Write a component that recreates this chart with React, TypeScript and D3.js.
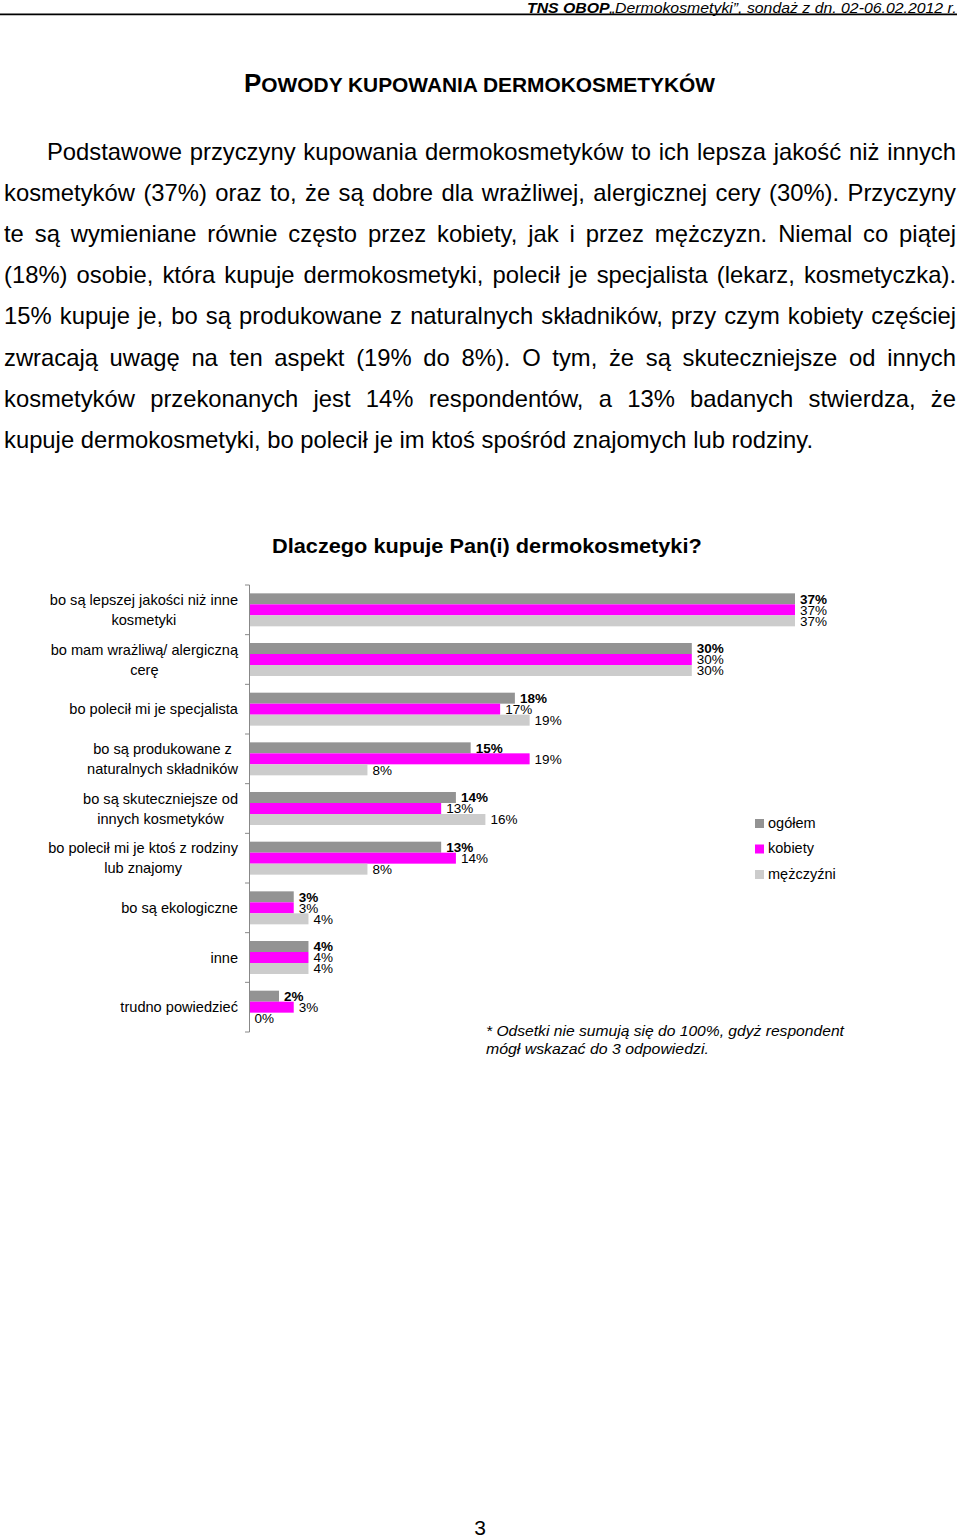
import React, { useEffect, useRef } from "react";
import * as d3 from "d3";

const FONT = "'Liberation Sans', Arial, Helvetica, sans-serif";

const categories: string[][] = [
  ["bo są lepszej jakości niż inne", "kosmetyki"],
  ["bo mam wrażliwą/ alergiczną", "cerę"],
  ["bo polecił mi je specjalista"],
  ["bo są produkowane z", "naturalnych składników"],
  ["bo są skuteczniejsze od", "innych kosmetyków"],
  ["bo polecił mi je ktoś z rodziny", "lub znajomy"],
  ["bo są ekologiczne"],
  ["inne"],
  ["trudno powiedzieć"],
];

const seriesNames = ["ogółem", "kobiety", "mężczyźni"];
const seriesColors = ["#939393", "#ff00ff", "#cccccc"];
const ogolem = [37, 30, 18, 15, 14, 13, 3, 4, 2];
const kobiety = [37, 30, 17, 19, 13, 14, 3, 4, 3];
const mezczyzni = [37, 30, 19, 8, 16, 8, 4, 4, 0];

const headerBold = "TNS OBOP";
const headerRest = "„Dermokosmetyki”, sondaż z dn. 02-06.02.2012 r.";
const headingFirst = "P";
const headingRest = "OWODY KUPOWANIA DERMOKOSMETYKÓW";
const chartTitle = "Dlaczego kupuje Pan(i) dermokosmetyki?";
const paragraph = [
  "Podstawowe przyczyny kupowania dermokosmetyków to ich lepsza jakość niż innych",
  "kosmetyków (37%) oraz to, że są dobre dla wrażliwej, alergicznej cery (30%). Przyczyny",
  "te są wymieniane równie często przez kobiety, jak i przez mężczyzn. Niemal co piątej",
  "(18%) osobie, która kupuje dermokosmetyki, polecił je specjalista (lekarz, kosmetyczka).",
  "15% kupuje je, bo są produkowane z naturalnych składników, przy czym kobiety częściej",
  "zwracają uwagę na ten aspekt (19% do 8%). O tym, że są skuteczniejsze od innych",
  "kosmetyków przekonanych jest 14% respondentów, a 13% badanych stwierdza, że",
  "kupuje dermokosmetyki, bo polecił je im ktoś spośród znajomych lub rodziny.",
];
const footnote = [
  "* Odsetki nie sumują się do 100%, gdyż respondent",
  "mógł wskazać do 3 odpowiedzi.",
];
const pageNumber = "3";

function fit(sel: any, x: number, y: number, w: number) {
  const node = sel.node() as SVGTextElement;
  const nat = node.getBBox().width || 1;
  sel.attr("x", 0).attr("y", 0).attr("transform", `translate(${x},${y}) scale(${w / nat},1)`);
}

export default function App() {
  const ref = useRef<SVGSVGElement>(null);
  useEffect(() => {
    const svg = d3.select(ref.current);
    svg.selectAll("*").remove();
    svg.append("rect").attr("width", 960).attr("height", 1538).attr("fill", "#fff");

    // header
    const hdr = svg.append("text").attr("font-family", FONT).attr("font-style", "italic").attr("font-size", 14).attr("fill", "#000");
    hdr.append("tspan").attr("font-weight", "bold").text(headerBold);
    hdr.append("tspan").text(headerRest);
    fit(hdr, 527, 12.5, 430);
    svg.append("line").attr("x1", 0).attr("x2", 957).attr("y1", 14.3).attr("y2", 14.3).attr("stroke", "#000").attr("stroke-width", 1.8);

    // heading
    const h = svg.append("text").attr("font-family", FONT).attr("font-weight", "bold").attr("fill", "#000");
    h.append("tspan").attr("font-size", 25.5).text(headingFirst);
    h.append("tspan").attr("font-size", 20.5).text(headingRest);
    fit(h, 244, 92, 472);

    // paragraph, justified
    const pFont = 23.8;
    const measure = (t: string, size: number, weight = "normal") => {
      const tmp = svg.append("text").attr("font-family", FONT).attr("font-size", size).attr("font-weight", weight).text(t);
      const w = (tmp.node() as SVGTextElement).getComputedTextLength();
      tmp.remove();
      return w;
    };
    const spaceW = measure("a a", pFont) - measure("aa", pFont);
    paragraph.forEach((line, i) => {
      const words = line.split(" ");
      const widths = words.map((w) => measure(w, pFont));
      const startX = i === 0 ? 47 : 4;
      const endX = 956;
      const total = d3.sum(widths);
      const last = i === paragraph.length - 1;
      const gap = last ? spaceW : (endX - startX - total) / (words.length - 1);
      let cx = startX;
      const yb = 160 + i * 41.1;
      words.forEach((w, k) => {
        svg.append("text").attr("font-family", FONT).attr("font-size", pFont).attr("fill", "#000").attr("x", cx).attr("y", yb).text(w);
        cx += widths[k] + gap;
      });
    });

    // chart title
    const title = svg.append("text").attr("font-family", FONT).attr("font-weight", "bold").attr("font-size", 21).attr("fill", "#000").text(chartTitle);
    fit(title, 272, 553, 430);

    // chart
    const n = categories.length;
    const values = [ogolem, kobiety, mezczyzni];
    const y0 = d3.scaleBand<number>().domain(d3.range(n)).range([585, 1032]).paddingInner(0.336).paddingOuter(0.168);
    const y1 = d3.scaleBand<number>().domain([0, 1, 2]).range([0, y0.bandwidth()]);
    const x = d3.scaleLinear().domain([0, 37]).range([249.5, 795]);
    const step = y0.step();

    const g = svg.append("g");
    for (let i = 0; i < n; i++) {
      for (let s = 0; s < 3; s++) {
        const v = values[s][i];
        const yy = (y0(i) as number) + (y1(s) as number);
        g.append("rect").attr("x", x(0)).attr("y", yy).attr("width", x(v) - x(0)).attr("height", y1.bandwidth()).attr("fill", seriesColors[s]);
      }
    }
    for (let i = 0; i < n; i++) {
      for (let s = 0; s < 3; s++) {
        const v = values[s][i];
        const yy = (y0(i) as number) + (y1(s) as number) + y1.bandwidth() / 2;
        g.append("text").attr("font-family", FONT).attr("font-size", 13.5).attr("font-weight", s === 0 ? "bold" : "normal")
          .attr("fill", "#000").attr("x", x(v) + 5).attr("y", yy).attr("dy", "0.36em").text(`${v}%`);
      }
    }
    // axis
    const axisTop = 585;
    g.append("line").attr("x1", 249.5).attr("x2", 249.5).attr("y1", axisTop).attr("y2", axisTop + step * n).attr("stroke", "#888").attr("stroke-width", 1);
    d3.range(n + 1).forEach((k) => {
      const yy = axisTop + step * k;
      g.append("line").attr("x1", 245).attr("x2", 249.5).attr("y1", yy).attr("y2", yy).attr("stroke", "#888").attr("stroke-width", 1);
    });

    // category labels
    categories.forEach((lines, i) => {
      const center = (y0(i) as number) + y0.bandwidth() / 2;
      const ws = lines.map((l) => measure(l, 14.6));
      const maxW = d3.max(ws) as number;
      lines.forEach((l, k) => {
        svg.append("text").attr("font-family", FONT).attr("font-size", 14.6).attr("fill", "#000").attr("text-anchor", "middle")
          .attr("x", 238 - maxW / 2).attr("y", center + (k - (lines.length - 1) / 2) * 20 + 5).text(l);
      });
    });

    // legend
    seriesNames.forEach((name, k) => {
      svg.append("rect").attr("x", 755).attr("y", 819 + 25.5 * k).attr("width", 9).attr("height", 9).attr("fill", seriesColors[k]);
      svg.append("text").attr("font-family", FONT).attr("font-size", 14.5).attr("fill", "#000").attr("x", 768).attr("y", 827.5 + 25.5 * k).text(name);
    });

    // footnote
    const f1 = svg.append("text").attr("font-family", FONT).attr("font-style", "italic").attr("font-size", 15).attr("fill", "#000").text(footnote[0]);
    fit(f1, 486, 1036, 359);
    const f2 = svg.append("text").attr("font-family", FONT).attr("font-style", "italic").attr("font-size", 15).attr("fill", "#000").text(footnote[1]);
    fit(f2, 486, 1054, 223);

    svg.append("text").attr("font-family", FONT).attr("font-size", 21).attr("fill", "#000").attr("text-anchor", "middle").attr("x", 480).attr("y", 1535).text(pageNumber);
  }, []);
  return <svg ref={ref} width={960} height={1538} style={{ position: "absolute", left: 0, top: 0, display: "block" }} />;
}
